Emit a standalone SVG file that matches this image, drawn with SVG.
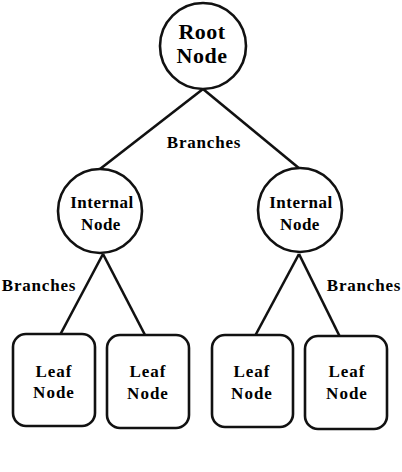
<svg xmlns="http://www.w3.org/2000/svg" width="402" height="472" viewBox="0 0 402 472">
<style>
.shape{fill:#fff;stroke:#111;stroke-width:2.6}
.edge{stroke:#111;stroke-width:2.6;fill:none}
text{font-family:"Liberation Serif","Times New Roman",serif;font-weight:bold;fill:#000;text-anchor:middle}
.big{font-size:22px;letter-spacing:0.5px}
.mid{font-size:17px;letter-spacing:0.5px}
.lbl{font-size:17px;letter-spacing:0.8px}
.leaf{font-size:17px;letter-spacing:1px}
</style>
<rect width="402" height="472" fill="#fff"/>
<g id="connectors">
<line class="edge" x1="203" y1="89" x2="100" y2="169"/>
<line class="edge" x1="203" y1="89" x2="300" y2="169"/>
<line class="edge" x1="103" y1="254" x2="60" y2="335"/>
<line class="edge" x1="103" y1="254" x2="145" y2="335"/>
<line class="edge" x1="299" y1="254" x2="255" y2="336"/>
<line class="edge" x1="299" y1="254" x2="340" y2="337"/>
</g>
<g id="root">
<circle class="shape" cx="203" cy="46" r="43"/>
<text class="big" x="202" y="39">Root</text>
<text class="big" x="202" y="63">Node</text>
</g>
<g id="internal-left">
<circle class="shape" cx="100" cy="211" r="42"/>
<text class="mid" x="102" y="208">Internal</text>
<text class="mid" x="101" y="230">Node</text>
</g>
<g id="internal-right">
<circle class="shape" cx="300" cy="210" r="42"/>
<text class="mid" x="301" y="208">Internal</text>
<text class="mid" x="300" y="230">Node</text>
</g>
<g id="leaf-1">
<rect class="shape" x="13" y="334" width="82" height="92" rx="13"/>
<text class="leaf" x="54" y="377">Leaf</text>
<text class="leaf" x="54" y="398">Node</text>
</g>
<g id="leaf-2">
<rect class="shape" x="107" y="335" width="82" height="93" rx="13"/>
<text class="leaf" x="148" y="377">Leaf</text>
<text class="leaf" x="148" y="399">Node</text>
</g>
<g id="leaf-3">
<rect class="shape" x="212" y="335" width="81" height="92" rx="13"/>
<text class="leaf" x="252" y="377">Leaf</text>
<text class="leaf" x="252" y="399">Node</text>
</g>
<g id="leaf-4">
<rect class="shape" x="305" y="336" width="82" height="93" rx="13"/>
<text class="leaf" x="347" y="377">Leaf</text>
<text class="leaf" x="347" y="399">Node</text>
</g>
<g id="labels">
<text class="lbl" x="204" y="148">Branches</text>
<text class="lbl" x="39" y="291">Branches</text>
<text class="lbl" x="364" y="291">Branches</text>
</g>
</svg>
